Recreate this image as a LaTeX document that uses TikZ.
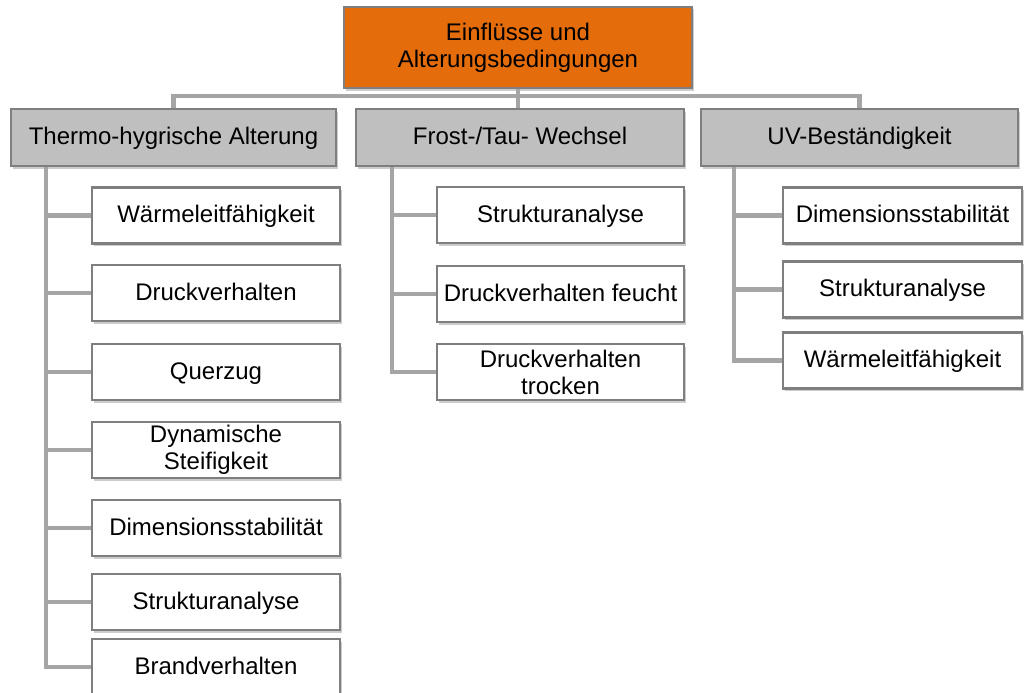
\documentclass[tikz,border=0pt]{standalone}
\usepackage{fontspec}
\setmainfont{Liberation Sans}
\usetikzlibrary{shadows}

\definecolor{orangeroot}{HTML}{E46C0A}
\definecolor{graybox}{HTML}{BFBFBF}
\definecolor{grayline}{HTML}{A5A5A5}
\definecolor{grayborder}{HTML}{7F7F7F}

\tikzset{
  boxshadow/.style={drop shadow={shadow xshift=2pt, shadow yshift=-2.5pt, opacity=0.4}},
  oneline/.style={text height=18pt, text depth=4pt},
  rootbox/.style={draw=grayborder, line width=1.8pt, fill=orangeroot,
    minimum width=348pt, minimum height=81pt, align=center, boxshadow},
  groupbox/.style={draw=grayborder, line width=1.6pt, fill=graybox,
    minimum height=57pt, align=center, oneline, boxshadow},
  leafbase/.style={draw=grayborder, line width=2.2pt, fill=white,
    minimum height=56pt, align=center, boxshadow},
  leafbox/.style={leafbase, oneline},
  conn/.style={draw=grayline, line width=4.5pt}
}

\begin{document}
\begin{tikzpicture}[x=1pt, y=-1pt, font=\fontsize{24}{27}\selectfont]

\useasboundingbox (0,0) rectangle (1025,693);

% Wurzel oben
\node[rootbox] (root) at (518,47.5) {Einflüsse und\\Alterungsbedingungen};

% drei Gruppen darunter
\node[groupbox, minimum width=325pt] (thermo) at (173.5,137.5) {Thermo-hygrische Alterung};
\node[groupbox, minimum width=328pt] (frost) at (520,137.5) {Frost-/Tau- Wechsel};
\node[groupbox, minimum width=317pt] (uv) at (859.5,137.5) {UV-Beständigkeit};

% Thermo-hygrische Alterung: Prüfungen
\node[leafbox, minimum width=248pt] (t1) at (216,215.5) {Wärmeleitfähigkeit};
\node[leafbox, minimum width=248pt] (t2) at (216,293) {Druckverhalten};
\node[leafbox, minimum width=248pt] (t3) at (216,372) {Querzug};
\node[leafbase, minimum width=248pt] (t4) at (216,450) {Dynamische\\Steifigkeit};
\node[leafbox, minimum width=248pt] (t5) at (216,528) {Dimensionsstabilität};
\node[leafbox, minimum width=248pt] (t6) at (216,602) {Strukturanalyse};
\node[leafbox, minimum width=248pt] (t7) at (216,667) {Brandverhalten};

% Frost-/Tau- Wechsel: Prüfungen
\node[leafbox, minimum width=247pt] (f1) at (560.5,215) {Strukturanalyse};
\node[leafbox, minimum width=247pt] (f2) at (560.5,294) {Druckverhalten feucht};
\node[leafbase, minimum width=247pt] (f3) at (560.5,372) {Druckverhalten\\trocken};

% UV-Beständigkeit: Prüfungen
\node[leafbox, minimum width=239pt] (u1) at (902.5,215.5) {Dimensionsstabilität};
\node[leafbox, minimum width=239pt] (u2) at (902.5,289.5) {Strukturanalyse};
\node[leafbox, minimum width=239pt] (u3) at (902.5,360.5) {Wärmeleitfähigkeit};

% Verbindungen oben
\draw[conn] (root.south) -- (root.south |- frost.north);
\draw[conn] (thermo.north) -- ++(0,-12) -| (uv.north);

% Verbindungen zu den Prüfungen
\foreach \n in {t1,t2,t3,t4,t5,t6,t7}
  \draw[conn] ([xshift=36pt]thermo.south west) |- (\n.west);
\foreach \n in {f1,f2,f3}
  \draw[conn] ([xshift=37pt]frost.south west) |- (\n.west);
\foreach \n in {u1,u2,u3}
  \draw[conn] ([xshift=34pt]uv.south west) |- (\n.west);

\end{tikzpicture}
\end{document}
